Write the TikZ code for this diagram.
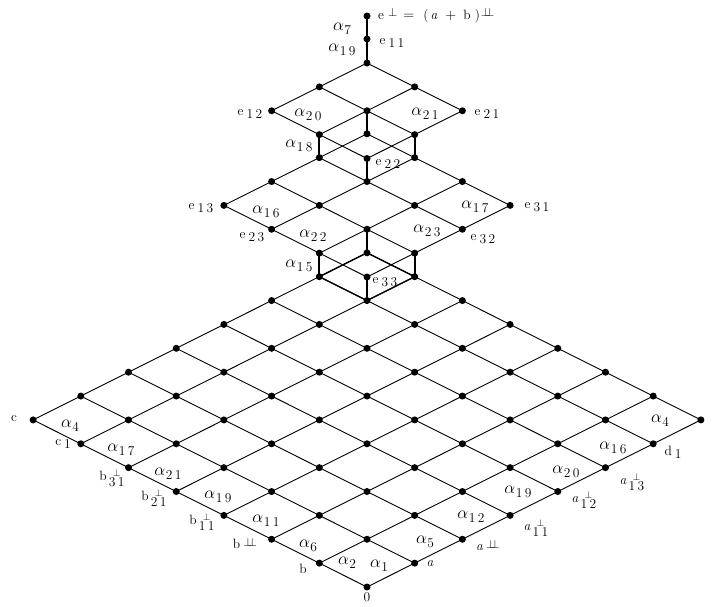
\documentclass[tikz,border=0pt]{standalone}
\newcommand{\pq}{\hbox{\fontsize{10}{10}\selectfont$\perp$}}
\newcommand{\pqb}{\hbox{\fontsize{13}{13}\selectfont$\perp$}}
\newcommand{\ppq}{\hbox{\fontsize{13}{13}\selectfont$\perp\kern-5pt\perp$}}
\newcommand{\alf}[1]{{\fontsize{18}{18}\selectfont$\alpha$}\kern0.5pt\raisebox{-3.5pt}{\fontsize{13.5}{14}\selectfont #1}}
\newcommand{\sm}[1]{\fontsize{13.5}{14}\selectfont #1}
\newcommand{\lsub}[2]{\sm{#1\kern3pt\raisebox{-3pt}{#2}}}
\newcommand{\lperp}[2]{\sm{#1\kern2pt\raisebox{-5.5pt}{\shortstack[c]{\pq\\[-2pt]#2}}}}
\newcommand{\lpp}[1]{\sm{#1\kern3pt\raisebox{2pt}{\ppq}}}
\begin{document}
\begin{tikzpicture}[x=1pt,y=-1pt,
  dot/.style={circle,fill=black,inner sep=0pt,minimum size=7pt},
  thin edge/.style={line width=0.9pt},
  thick edge/.style={line width=2pt},
  lbl/.style={inner sep=0pt,anchor=center}]
\useasboundingbox (0,0) rectangle (713,606);
\clip (0,0) rectangle (713,606);
\def\dx{47.7}\def\dy{23.87}
% bottom grid
\foreach \i in {0,...,7}\foreach \j in {0,...,7}
  \node[dot] (g-\i-\j) at ({367+\dx*(\i-\j)},{587-\dy*(\i+\j)}) {};
\foreach \i in {0,...,7}\foreach \j in {0,...,7}{
  \pgfmathtruncatemacro{\ii}{\i+1}\pgfmathtruncatemacro{\jj}{\j+1}
  \ifnum\i<7 \draw[thin edge] (g-\i-\j.center) -- (g-\ii-\j.center);\fi
  \ifnum\j<7 \draw[thin edge] (g-\i-\j.center) -- (g-\i-\jj.center);\fi
}
% middle grid
\foreach \i in {0,...,3}\foreach \j in {0,...,3}
  \node[dot] (m-\i-\j) at ({367+\dx*(\i-\j)},{277-\dy*(\i+\j)}) {};
\foreach \i in {0,...,3}\foreach \j in {0,...,3}{
  \pgfmathtruncatemacro{\ii}{\i+1}\pgfmathtruncatemacro{\jj}{\j+1}
  \ifnum\i<3 \draw[thin edge] (m-\i-\j.center) -- (m-\ii-\j.center);\fi
  \ifnum\j<3 \draw[thin edge] (m-\i-\j.center) -- (m-\i-\jj.center);\fi
}
% top grid
\foreach \i in {0,...,2}\foreach \j in {0,...,2}
  \node[dot] (t-\i-\j) at ({367+\dx*(\i-\j)},{158.5-\dy*(\i+\j)}) {};
\foreach \i in {0,...,2}\foreach \j in {0,...,2}{
  \pgfmathtruncatemacro{\ii}{\i+1}\pgfmathtruncatemacro{\jj}{\j+1}
  \ifnum\i<2 \draw[thin edge] (t-\i-\j.center) -- (t-\ii-\j.center);\fi
  \ifnum\j<2 \draw[thin edge] (t-\i-\j.center) -- (t-\i-\jj.center);\fi
}
% top chain
\node[dot] (e11) at (367,39) {};
\node[dot] (eperp) at (367,16) {};
\draw[thick edge] (t-2-2.center) -- (e11.center) -- (eperp.center);
% thick verticals between grids
\draw[thick edge] (t-0-1.center) -- (m-2-3.center);
\draw[thick edge] (t-1-0.center) -- (m-3-2.center);
\draw[thick edge] (t-1-1.center) -- (m-3-3.center);
\draw[thick edge] (t-0-0.center) -- (m-2-2.center);
\draw[thick edge] (m-0-1.center) -- (g-6-7.center);
\draw[thick edge] (m-1-0.center) -- (g-7-6.center);
\draw[thick edge] (m-1-1.center) -- (g-7-7.center);
\draw[thick edge] (m-0-0.center) -- (g-6-6.center);
% heavier top cell of the bottom grid
\draw[line width=1.4pt] (g-6-7.center) -- (g-7-7.center) -- (g-7-6.center) -- (g-6-6.center) -- cycle;
% labels: top
\node[lbl,anchor=west] (leperp) at (378,16) {\sm{e\kern4pt\raisebox{3pt}{\pqb}\kern6pt$=$\kern9pt(\kern2pt\textit{a}\kern8pt$+$\kern7ptb\kern4pt)\kern1pt\raisebox{3pt}{\ppq}}};
\node[lbl] (a7) at (342,29) {\alf{7}};
\node[lbl] (a19t) at (342,50) {\alf{1\kern2.5pt9}};
\node[lbl] (le11) at (392,43) {\lsub{e}{1\kern2.5pt1}};
\node[lbl] (le12) at (250,114) {\lsub{e}{1\kern2.5pt2}};
\node[lbl] (le21) at (487,114) {\lsub{e}{2\kern2.5pt1}};
\node[lbl] (a20t) at (308,115) {\alf{2\kern2.5pt0}};
\node[lbl] (a21t) at (425,114) {\alf{2\kern2.5pt1}};
\node[lbl] (a18) at (299,146) {\alf{1\kern2.5pt8}};
\node[lbl] (le22) at (388,164) {\lsub{e}{2\kern2.5pt2}};
\node[lbl] (le13) at (201,208) {\lsub{e}{1\kern2.5pt3}};
\node[lbl] (le31) at (537,207) {\lsub{e}{3\kern2.5pt1}};
\node[lbl] (a16t) at (266,212) {\alf{1\kern2.5pt6}};
\node[lbl] (a17t) at (475,207) {\alf{1\kern2.5pt7}};
\node[lbl] (le23) at (252,237) {\lsub{e}{2\kern2.5pt3}};
\node[lbl] (le32) at (483,239) {\lsub{e}{3\kern2.5pt2}};
\node[lbl] (a22) at (313,236) {\alf{2\kern2.5pt2}};
\node[lbl] (a23) at (427,231) {\alf{2\kern2.5pt3}};
\node[lbl] (a15) at (299,266) {\alf{1\kern2.5pt5}};
\node[lbl] (le33) at (385,282) {\lsub{e}{3\kern2.5pt3}};
% labels: lower left
\node[lbl] (lc) at (14,419) {\sm{c}};
\node[lbl] (a4l) at (70,426) {\alf{4}};
\node[lbl] (lc1) at (63,444) {\lsub{c}{1}};
\node[lbl] (a17l) at (121,450) {\alf{1\kern2.5pt7}};
\node[lbl] (lb31) at (112,478) {\lperp{b}{3\kern2.5pt1}};
\node[lbl] (a21l) at (168,474) {\alf{2\kern2.5pt1}};
\node[lbl] (lb21) at (154,498) {\lperp{b}{2\kern2.5pt1}};
\node[lbl] (a19l) at (218,497) {\alf{1\kern2.5pt9}};
\node[lbl] (lb11) at (202,522) {\lperp{b}{1\kern2.5pt1}};
\node[lbl] (a11) at (266,521) {\alf{1\kern2.5pt1}};
\node[lbl] (lbpp) at (245,543) {\lpp{b}};
\node[lbl] (a6) at (308,546) {\alf{6}};
\node[lbl] (lb) at (303,569) {\sm{b}};
\node[lbl] (a2) at (347,563) {\alf{2}};
\node[lbl] (l0) at (367,597) {\sm{0}};
% labels: lower right
\node[lbl] (a1) at (379,566) {\alf{1}};
\node[lbl] (la) at (430,564) {\sm{\textit{a}}};
\node[lbl] (a5) at (425,542) {\alf{5}};
\node[lbl] (lapp) at (488,545) {\lpp{\textit{a}}};
\node[lbl] (a12) at (471,517) {\alf{1\kern2.5pt2}};
\node[lbl] (la11) at (536,528) {\lperp{\textit{a}}{1\kern2.5pt1}};
\node[lbl] (a19r) at (518,492) {\alf{1\kern2.5pt9}};
\node[lbl] (la12) at (584,500) {\lperp{\textit{a}}{1\kern2.5pt2}};
\node[lbl] (a20r) at (566,472) {\alf{2\kern2.5pt0}};
\node[lbl] (la13) at (632,482) {\lperp{\textit{a}}{1\kern2.5pt3}};
\node[lbl] (a16r) at (613,448) {\alf{1\kern2.5pt6}};
\node[lbl] (ld1) at (673,452) {\lsub{d}{1}};
\node[lbl] (a4r) at (660,421) {\alf{4}};
\end{tikzpicture}
\end{document}
